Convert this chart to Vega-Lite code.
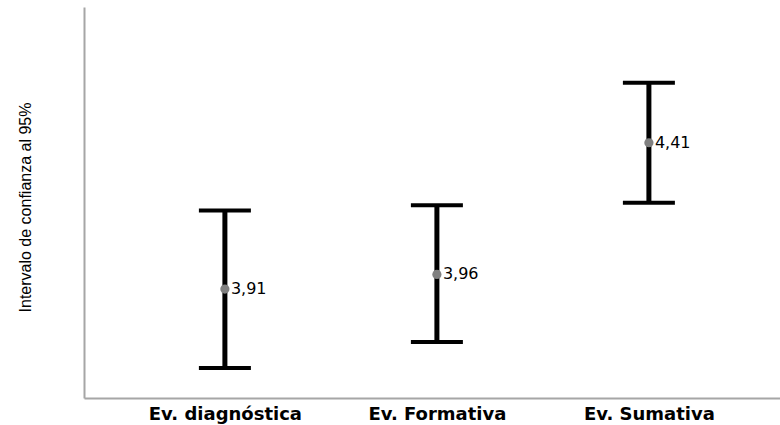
{
  "$schema": "https://vega.github.io/schema/vega-lite/v6.json",
  "width": 696,
  "height": 391,
  "autosize": {"type": "none"},
  "padding": {"left": 84, "top": 7, "right": 0, "bottom": 27},
  "background": "white",
  "config": {
    "view": {"stroke": null},
    "axisX": {"domainColor": "#a6a6a6", "domainWidth": 2, "ticks": false, "grid": false, "labelFont": "DejaVu Sans", "labelFontWeight": "bold", "labelFontSize": 18, "labelColor": "black", "labelPadding": 7, "labelAngle": 0},
    "axisY": {"domainColor": "#a6a6a6", "domainWidth": 2, "ticks": false, "labels": false, "grid": false, "titleFont": "Liberation Sans", "titleFontSize": 16, "titleFontWeight": "normal", "titleColor": "black", "titlePadding": 51, "titleY": 200}
  },
  "data": {"values": [
    {"grupo": "Ev. diagnóstica", "media": 3.91, "inf": 3.64, "sup": 4.178, "etiqueta": "3,91"},
    {"grupo": "Ev. Formativa", "media": 3.96, "inf": 3.729, "sup": 4.196, "etiqueta": "3,96"},
    {"grupo": "Ev. Sumativa", "media": 4.41, "inf": 4.205, "sup": 4.615, "etiqueta": "4,41"}
  ]},
  "encoding": {
    "x": {"field": "grupo", "type": "nominal", "sort": null, "title": null, "scale": {"type": "point", "padding": 0.6415, "align": 0.518}}
  },
  "layer": [
    {
      "mark": {"type": "rule", "strokeWidth": 5, "color": "black"},
      "encoding": {
        "y": {"field": "inf", "type": "quantitative", "title": "Intervalo de confianza al 95%", "scale": {"domain": [3.5375, 4.874], "nice": false, "zero": false}},
        "y2": {"field": "sup"}
      }
    },
    {
      "mark": {"type": "tick", "size": 52, "thickness": 4, "color": "black", "opacity": 1},
      "encoding": {
        "y": {"field": "inf", "type": "quantitative", "title": "Intervalo de confianza al 95%", "scale": {"domain": [3.5375, 4.874], "nice": false, "zero": false}}
      }
    },
    {
      "mark": {"type": "tick", "size": 52, "thickness": 4, "color": "black", "opacity": 1},
      "encoding": {
        "y": {"field": "sup", "type": "quantitative", "title": "Intervalo de confianza al 95%", "scale": {"domain": [3.5375, 4.874], "nice": false, "zero": false}}
      }
    },
    {
      "mark": {"type": "point", "filled": true, "size": 85, "color": "#808080", "opacity": 1},
      "encoding": {
        "y": {"field": "media", "type": "quantitative", "title": "Intervalo de confianza al 95%", "scale": {"domain": [3.5375, 4.874], "nice": false, "zero": false}}
      }
    },
    {
      "mark": {"type": "text", "align": "left", "baseline": "middle", "dx": 6, "font": "DejaVu Sans", "fontSize": 16, "color": "black"},
      "encoding": {
        "y": {"field": "media", "type": "quantitative", "title": "Intervalo de confianza al 95%", "scale": {"domain": [3.5375, 4.874], "nice": false, "zero": false}},
        "text": {"field": "etiqueta"}
      }
    }
  ]
}
